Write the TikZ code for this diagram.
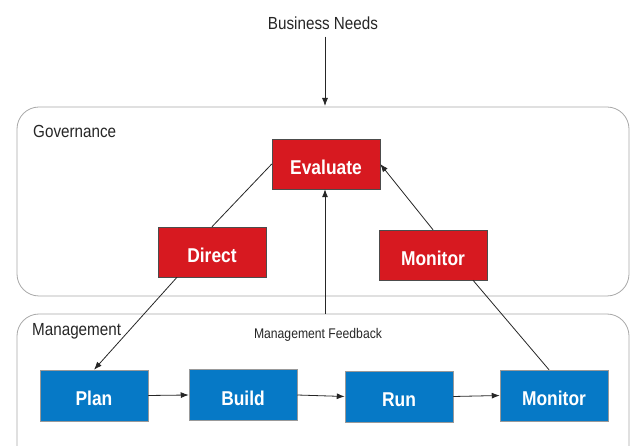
\documentclass[tikz,border=0pt]{standalone}
\usepackage{fontspec}
\setmainfont{Liberation Sans}
\newfontfamily\narrowfont[FakeStretch=0.87]{Liberation Sans}
\usetikzlibrary{arrows.meta}
\definecolor{boxred}{HTML}{D71920}
\definecolor{boxblue}{HTML}{0679C6}
\definecolor{framegray}{HTML}{A8A8A8}
\tikzset{
  redbox/.style={draw=black!70, line width=0.5pt, fill=boxred, text=white,
    minimum width=108pt, minimum height=50pt, inner sep=0pt,
    text height=21pt, text depth=0pt,
    font=\narrowfont\fontsize{20}{22}\selectfont\bfseries},
  bluebox/.style={draw=black!40, line width=0.5pt, fill=boxblue, text=white,
    minimum width=108pt, minimum height=51pt, inner sep=0pt,
    text height=21pt, text depth=0pt,
    font=\narrowfont\fontsize{20}{22}\selectfont\bfseries},
  container/.style={draw=framegray, line width=0.8pt, rounded corners=22pt},
  lbl/.style={font=\narrowfont\fontsize{17.5}{19}\selectfont, inner sep=0pt, text=black!85},
  conn/.style={line width=0.8pt, draw=black!85},
  arr/.style={conn, -{Latex[length=8pt,width=6pt]}}
}
\begin{document}
\begin{tikzpicture}[x=1pt,y=-1pt]
\useasboundingbox (0,0) rectangle (630,446);
\clip (0,0) rectangle (630,446);
% containers
\draw[container] (17,107) rectangle (629,296);
\draw[container] (17,314) rectangle (629,480);
\coordinate (govtop) at (325,106);
\coordinate (mgmttop) at (325,314);
% labels
\node[lbl] (needs) at (323,23) {Business Needs};
\node[lbl, anchor=west] (gov) at (33,131) {Governance};
\node[lbl, anchor=west] (mgmt) at (32,331) {Management};
\node[lbl, font=\narrowfont\fontsize{14}{16}\selectfont] (fb) at (318,335) {Management Feedback};
% red boxes
\node[redbox] (eval) at (326,164) {Evaluate};
\node[redbox] (direct) at (212,252) {Direct};
\node[redbox] (gmon) at (433,255) {Monitor};
% blue boxes
\node[bluebox] (plan) at (94,395.5) {Plan};
\node[bluebox] (build) at (243,395) {Build};
\node[bluebox] (run) at (399,396.5) {Run};
\node[bluebox] (mmon) at (554,395.5) {Monitor};
% connectors
\draw[arr] (needs.south -| govtop) ++(0,7) -- (govtop);
\draw[conn] (direct.north) -- (eval.west);
\draw[arr] (gmon.north) -- (eval.east);
\draw[arr] (mgmttop) -- (eval.south -| mgmttop);
\draw[arr] (direct.south -| 177,0) -- (plan.north);
\draw[conn] (mmon.north -| 549,0) -- (gmon.south -| 473,0);
\draw[arr] (plan.east) -- (build.west);
\draw[arr] (build.east) -- (run.west);
\draw[arr] (run.east) -- (mmon.west);
\end{tikzpicture}
\end{document}
